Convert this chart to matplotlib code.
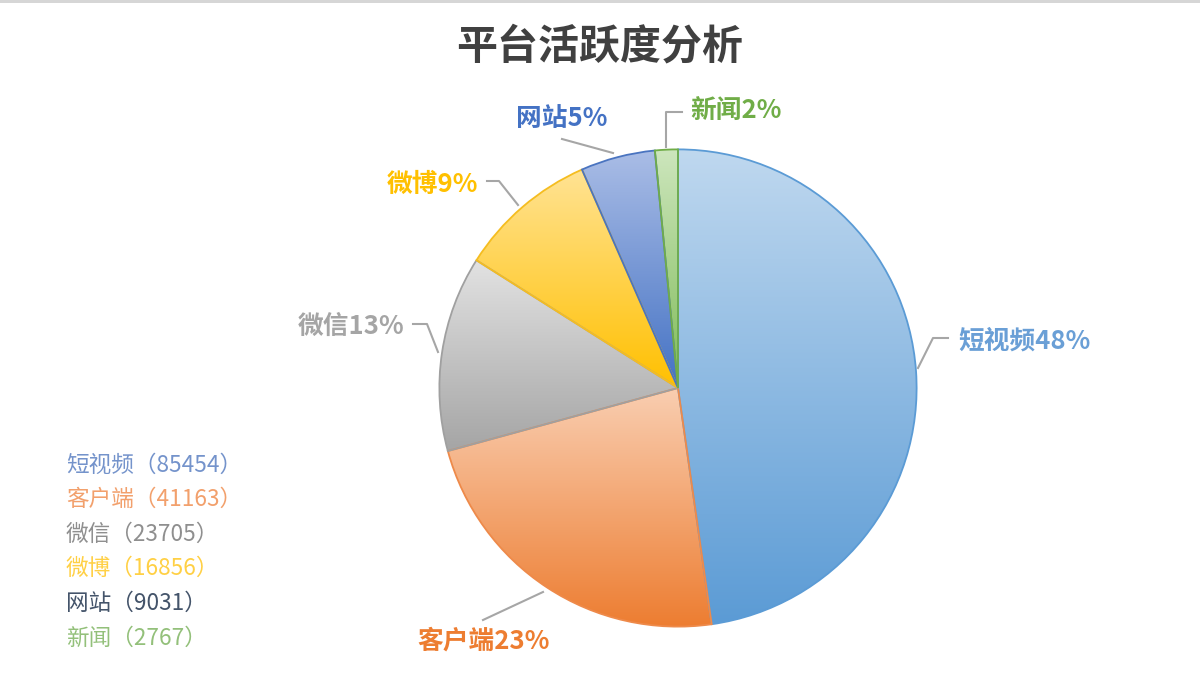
import numpy as np
import matplotlib
matplotlib.use("Agg")
import matplotlib.pyplot as plt
from matplotlib.colors import LinearSegmentedColormap
from matplotlib.lines import Line2D
from matplotlib.patches import Rectangle

plt.rcParams['font.family'] = ['Noto Sans CJK SC', 'DejaVu Sans']

# ---- data ----
categories = ['短视频', '客户端', '微信', '微博', '网站', '新闻']
values = [85454, 41163, 23705, 16856, 9031, 2767]

# ---- styles ----
top_colors = ['#bfd8ef', '#f9ceb1', '#e2e2e2', '#ffe394', '#aabde6', '#cde6bd']
bot_colors = ['#5b9bd5', '#ed7d31', '#a5a5a5', '#ffc000', '#4472c4', '#7fbb58']
edge_colors = ['#5b9bd5', '#ee8a4a', '#a0a0a0', '#f5bd20', '#4a74c0', '#70ad47']
label_colors = ['#6a9fd6', '#ed7d31', '#a5a5a5', '#ffc000', '#4472c4', '#70ad47']
legend_colors = ['#7493cb', '#f2a06c', '#8f8f8f', '#ffd045', '#44546a', '#93c07a']

W, H = 1200, 685
fig = plt.figure(figsize=(W / 100, H / 100), dpi=100)
fig.patch.set_facecolor('white')


def fx(x):
    return x / W


def fy(y):
    return 1 - y / H


# top border
fig.add_artist(Rectangle((0, fy(2.5)), 1, 2.5 / H, transform=fig.transFigure,
                         facecolor='#d6d6d6', edgecolor='none'))

# pie axes: centre (678, 388), radius 241 px
cx, cy, r = 678, 388, 241
ax = fig.add_axes([fx(cx - r), fy(cy + r), 2 * r / W, 2 * r / H])
wedges, _ = ax.pie(values, startangle=90, counterclock=False, radius=1,
                   wedgeprops=dict(linewidth=1.3))
grad = np.linspace(0, 1, 256).reshape(-1, 1)
for w, tc, bc, ec in zip(wedges, top_colors, bot_colors, edge_colors):
    w.set_facecolor('none')
    w.set_edgecolor(ec)
    w.set_zorder(3)
    ext = w.get_path().get_extents(w.get_patch_transform())
    cmap = LinearSegmentedColormap.from_list('g', [bc, tc])
    im = ax.imshow(grad, cmap=cmap, origin='lower', aspect='auto',
                   extent=[ext.x0, ext.x1, ext.y0, ext.y1], zorder=2,
                   interpolation='bilinear')
    im.set_clip_path(w)
ax.set_xlim(-1.01, 1.01)
ax.set_ylim(-1.01, 1.01)
ax.set_aspect('equal')
ax.axis('off')

# title
fig.text(fx(600), fy(46), '平台活跃度分析', ha='center', va='center',
         fontsize=29.5, fontweight='bold', color='#404040')

# data labels
total = sum(values)
pct = [round(v / total * 100) for v in values]
label_pos = [(958, 341, 'left'), (417, 641, 'left'), (404, 326, 'right'),
             (478, 184, 'right'), (607, 118, 'right'), (690, 111, 'left')]
for cat, p, (x, y, ha), col in zip(categories, pct, label_pos, label_colors):
    fig.text(fx(x), fy(y), f'{cat}{p}%', ha=ha, va='center', fontsize=18.5,
             fontweight='bold', color=col)

# leader lines
leaders = [
    [(918, 368), (933, 338), (948, 338)],
    [(483, 620), (543, 592)],
    [(413, 324), (427, 324), (438, 352)],
    [(487, 181), (499, 181), (518, 205)],
    [(562, 139), (613, 153)],
    [(666, 147), (666, 112), (682, 112)],
]
for pts in leaders:
    xs = [fx(p[0]) for p in pts]
    ys = [fy(p[1]) for p in pts]
    fig.add_artist(Line2D(xs, ys, transform=fig.transFigure, color='#a6a6a6',
                          linewidth=1.5))

# legend (text list)
for i, (cat, v, col) in enumerate(zip(categories, values, legend_colors)):
    fig.text(fx(66), fy(465 + i * 34.6), f'{cat}（{v}）', ha='left', va='center',
             fontsize=16.3, color=col)

fig.savefig('out.png', dpi=100, facecolor='white')
